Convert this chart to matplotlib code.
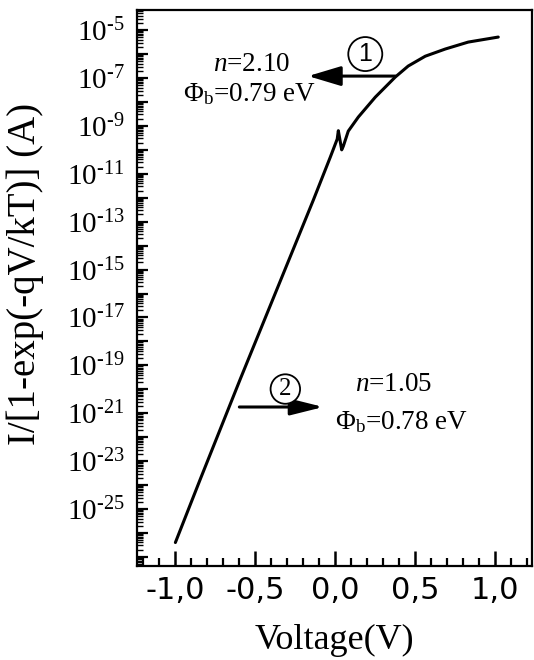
import numpy as np
import matplotlib
matplotlib.use("Agg")
import matplotlib.pyplot as plt
from matplotlib.ticker import FixedLocator, FuncFormatter, LogLocator, MultipleLocator, NullFormatter

plt.rcParams['mathtext.fontset'] = 'custom'
plt.rcParams['mathtext.rm'] = 'Liberation Serif'
plt.rcParams['mathtext.it'] = 'Liberation Serif:italic'
plt.rcParams['mathtext.bf'] = 'Liberation Serif:bold'

# Data (voltage in V, log10 of I/[1-exp(-qV/kT)] in A)
voltage = [-1.0, -0.844, -0.594, -0.1375, -0.031, 0.012, 0.019, 0.040, 0.050,
           0.081, 0.144, 0.25, 0.375, 0.456, 0.5625, 0.6875, 0.831, 1.019]
log_current = [-26.4, -23.75, -19.57, -12.10, -10.30, -9.55, -9.2, -10.0, -9.85,
               -9.22, -8.63, -7.80, -6.96, -6.50, -6.09, -5.79, -5.50, -5.29]
current = [10.0 ** v for v in log_current]

x_ticks = [-1.0, -0.5, 0.0, 0.5, 1.0]
x_tick_labels = ["-1,0", "-0,5", "0,0", "0,5", "1,0"]
y_label_exponents = [-5, -7, -9, -11, -13, -15, -17, -19, -21, -23, -25]

fig = plt.figure(figsize=(5.34, 6.60), dpi=100)
ax = fig.add_axes([137/534, 1 - 566/660, (532-137)/534, (566-10)/660])

ax.plot(voltage, current, color='black', lw=2.2, solid_capstyle='round', solid_joinstyle='round')
ax.set_yscale('log')
ax.set_xlim(-1.24, 1.23)
ax.set_ylim(10**-27.38, 10**-4.16)

# ticks
ax.xaxis.set_major_locator(FixedLocator(x_ticks))
ax.set_xticklabels(x_tick_labels, fontfamily='DejaVu Sans', fontsize=22)
ax.xaxis.set_minor_locator(MultipleLocator(0.1))

ax.yaxis.set_major_locator(FixedLocator([10.0**e for e in range(-27, -3)]))
def yfmt(val, pos):
    e = int(round(np.log10(val)))
    if e in y_label_exponents:
        return r'$\mathrm{10^{\text{-}%d}}$' % (-e)
    return ''
ax.yaxis.set_major_formatter(FuncFormatter(yfmt))
ax.yaxis.set_minor_locator(LogLocator(base=10, subs=np.arange(2, 10), numticks=100))
ax.yaxis.set_minor_formatter(NullFormatter())

ax.tick_params(axis='both', which='both', direction='in', top=False, right=False, color='black')
ax.tick_params(axis='x', which='major', length=11, width=1.8, pad=7)
ax.tick_params(axis='x', which='minor', length=6, width=1.6)
ax.tick_params(axis='y', which='major', length=8, width=1.6, pad=9, labelsize=21)
ax.tick_params(axis='y', which='minor', length=4, width=1.0)

for s in ax.spines.values():
    s.set_linewidth(1.6)

ax.set_xlabel('Voltage(V)', fontfamily='Liberation Serif', fontsize=26)
ax.xaxis.set_label_coords(0.5, -0.105)
ax.set_ylabel('I/[1-exp(-qV/kT)] (A)', fontfamily='Liberation Serif', fontsize=28)
ax.yaxis.set_label_coords(-0.235, 0.525)

# annotations
serif = dict(fontfamily='Liberation Serif', fontsize=19.5, color='black')
ax.annotate('', xy=(-0.17, 10**-6.92), xytext=(0.375, 10**-6.92),
            arrowprops=dict(arrowstyle='-|>,head_length=2.0,head_width=0.6', color='black', lw=2.2, shrinkA=0, shrinkB=0))
ax.text(0.1875, 10**-6.0, '1', ha='center', va='center', fontfamily='Liberation Sans', fontsize=18,
        bbox=dict(boxstyle='circle,pad=0.2', fc='white', ec='black', lw=1.3))
ax.text(-0.525, 10**-6.42, r'$\mathit{n}$=2.10', ha='center', va='center', **serif)
ax.text(-0.95, 10**-7.67, r'$\Phi_\mathrm{b}$=0.79 eV', ha='left', va='center', **serif)

ax.annotate('', xy=(-0.075, 10**-20.74), xytext=(-0.6, 10**-20.74),
            arrowprops=dict(arrowstyle='-|>,head_length=2.0,head_width=0.5', color='black', lw=2.2, shrinkA=0, shrinkB=0))
ax.text(-0.3125, 10**-19.99, '2', ha='center', va='center', fontfamily='Liberation Serif', fontsize=18,
        bbox=dict(boxstyle='circle,pad=0.15', fc='white', ec='black', lw=1.3))
ax.text(0.3625, 10**-19.82, r'$\mathit{n}$=1.05', ha='center', va='center', **serif)
ax.text(0.0, 10**-21.37, r'$\Phi_\mathrm{b}$=0.78 eV', ha='left', va='center', **serif)

fig.savefig('out.png', dpi=100)
